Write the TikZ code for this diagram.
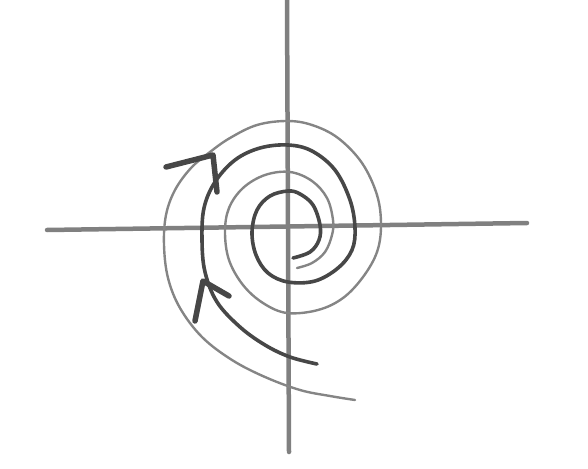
\documentclass[tikz,border=0pt]{standalone}
\usepackage{tikz}
\usetikzlibrary{calc,positioning}
\tikzset{
    axis/.style={
    draw=black!50,line width=4.5pt,line cap=round
    },
    darkspiral/.style={
    draw=black!72,line width=3.6pt,line cap=round,line join=round
    },
    thinspiral/.style={
    draw=black!48,line width=2.4pt,line cap=round,line join=round
    },
    barb/.style={
    draw=black!72,line width=5.5pt,line cap=round,line join=round
    },
}

\begin{document}
\begin{tikzpicture}[x=1pt,y=-1pt]
   \useasboundingbox (0,0) rectangle (588,468);
   \coordinate (xl) at (47,230);
   \coordinate (xr) at (527,223);
   \coordinate (yt) at (287,0);
   \coordinate (yb) at (289,452);

   % axes
   \draw[axis] (xl) -- (xr);
   \draw[axis] (yt) -- (yb);

   % light spiral, outer tail ends bottom right
   \draw[thinspiral] plot[smooth,tension=0.6] coordinates {
     (297,268) (312,263) (325,252) (332,235) (333,220) (327,198) (312,181)
     (290,172) (265,175) (243,188) (229,208) (225,232) (229,260) (243,285)
     (263,303) (287,313) (318,310) (343,298) (363,277) (377,252) (381,225)
     (377,195) (362,163) (338,138) (312,125) (287,121) (257,125) (230,138)
     (210,152) (191,168) (175,190) (166,215) (164,245) (168,278) (180,308)
     (202,337) (232,360) (265,377) (300,390) (330,396) (355,400)};

   % dark spiral
   \draw[darkspiral] plot[smooth,tension=0.6] coordinates {
     (293,258) (310,252) (319,240) (320,225) (313,205) (300,194) (288,191)
     (270,196) (257,210) (252,232) (256,255) (268,273) (288,282) (315,281)
     (338,268) (352,250) (355,228) (350,200) (335,170) (312,151) (288,145)
     (260,148) (235,160) (215,182) (204,208) (202,240) (205,272) (217,302)
     (240,327) (265,345) (290,357) (317,364)};

   % arrow heads
   \coordinate (ta) at (213,155);
   \coordinate (ta1) at (166,167);
   \coordinate (ta2) at (217,192);
   \draw[barb] (ta1) -- (ta) -- (ta2);
   \coordinate (ba) at (203,281);
   \coordinate (ba1) at (195,321);
   \coordinate (ba2) at (229,296);
   \draw[barb] (ba1) -- (ba) -- (ba2);
\end{tikzpicture}
\end{document}
